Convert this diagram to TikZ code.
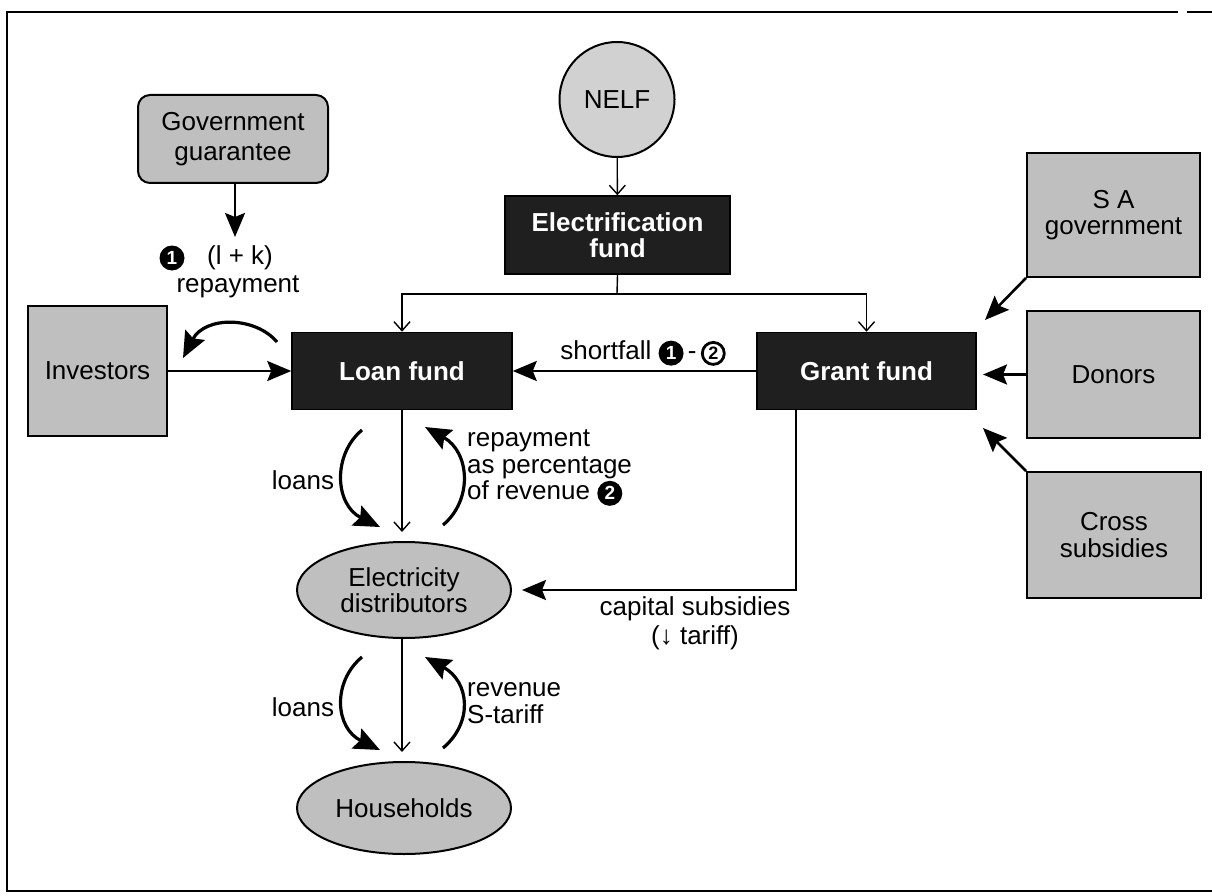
\documentclass[tikz,border=0pt]{standalone}
\usepackage{fontspec}
\setmainfont{Liberation Sans}
\usetikzlibrary{arrows.meta,shapes.geometric,calc}

\newcommand{\numfill}[1]{\tikz[baseline=(n.base)]\node[circle,fill=black,text=white,inner sep=0pt,minimum size=25pt,font=\bfseries\fontsize{19}{19}\selectfont](n){#1};}
\newcommand{\numopen}[1]{\tikz[baseline=(n.base)]\node[circle,draw=black,line width=2.8pt,fill=white,text=black,inner sep=0pt,minimum size=22pt,font=\bfseries\fontsize{18}{18}\selectfont](n){#1};}

\begin{document}
\begin{tikzpicture}[x=1pt,y=-1pt,
  font=\fontsize{26}{26.5}\selectfont,
  gbox/.style={draw=black,line width=2pt,fill=black!25,align=center,inner sep=2pt},
  dbox/.style={draw=black,line width=1.5pt,fill=black!88,text=white,font=\bfseries\fontsize{26}{26.5}\selectfont,align=center,inner sep=2pt},
  oval/.style={ellipse,draw=black,line width=2pt,fill=black!25,align=center,inner sep=0pt},
  flowline/.style={line width=1.4pt},
  thinarr/.style={line width=1.4pt,-{Straight Barb[length=9pt,width=16pt,line width=1.4pt]}},
  bigarr/.style={line width=2.6pt,-{Stealth[length=24pt,width=20pt,inset=4pt]}},
  curvarr/.style={line width=3.2pt,-{Stealth[length=26pt,width=22pt,inset=4pt]}},
  lbl/.style={align=left,inner sep=0pt}
]
\useasboundingbox (0,0) rectangle (1212,896);
\fill[white] (0,0) rectangle (1212,896);

% frame
\draw[line width=1.5pt] (1178,12) -- (7,12) -- (7,891) -- (1212,891);
\draw[line width=1.5pt] (1187,12) -- (1212,12);

% nodes
\node[circle,draw=black,line width=2pt,fill=black!18,minimum size=115pt,inner sep=0pt] (nelf) at (617,99.5) {NELF};
\node[dbox,minimum width=225pt,minimum height=78pt] (ef) at (617.5,235) {Electrification\\fund};
\node[dbox,minimum width=220pt,minimum height=77pt] (loan) at (402,371) {Loan fund};
\node[dbox,minimum width=219pt,minimum height=77pt] (grant) at (866.5,371) {Grant fund};
\node[gbox,rounded corners=12pt,minimum width=190pt,minimum height=88pt,font=\fontsize{26}{30}\selectfont] (gov) at (233,139) {Government\\guarantee};
\node[gbox,minimum width=139pt,minimum height=130pt] (inv) at (97.5,371) {Investors};
\node[gbox,minimum width=173pt,minimum height=124pt] (sa) at (1113.5,215) {S A\\government};
\node[gbox,minimum width=173pt,minimum height=127pt] (don) at (1113.5,374.5) {Donors};
\node[gbox,minimum width=174pt,minimum height=126pt] (cross) at (1114,535) {Cross\\subsidies};
\node[oval,minimum width=214pt,minimum height=96pt] (dist) at (404,590) {Electricity\\distributors};
\node[oval,minimum width=214pt,minimum height=92pt] (hh) at (404,808) {Households};

% coordinates
\coordinate (j) at (617,294);
\coordinate (govtip) at (235,237);
\coordinate (invA) at (277,342);
\coordinate (invB) at (183,358);
\coordinate (satip) at (985,320);
\coordinate (dontip) at (983,374.5);
\coordinate (crtip) at (983,428);
\coordinate (gs) at (796,410);
\coordinate (l1a) at (362,430);
\coordinate (l1b) at (380,527);
\coordinate (r1a) at (443,525);
\coordinate (r1b) at (425,427);
\coordinate (l2a) at (362,657);
\coordinate (l2b) at (380,750);
\coordinate (r2a) at (443,748);
\coordinate (r2b) at (425,657);

% connectors
\draw[thinarr] (nelf) -- (ef);
\draw[flowline] (ef.south) -- (j);
\draw[thinarr] (j) -| (loan.north);
\draw[thinarr] (j) -| (grant.north);
\draw[bigarr] (gov.south -| govtip) -- (govtip);
\draw[bigarr] (inv.east) -- (loan.west);
\draw[curvarr] (invA) .. controls (255,316) and (205,316) .. (invB);
\draw[bigarr] (grant.west) -- (loan.east);
\draw[bigarr] (sa.south west) -- (satip);
\draw[bigarr] (don.west) -- (dontip);
\draw[bigarr] (cross.north west) -- (crtip);
\draw[bigarr,shorten >=10pt] (gs) |- (dist.east);
\draw[thinarr,shorten >=9pt] (loan.south) -- (loan.south |- dist.north);
\draw[thinarr,shorten >=9pt] (dist.south -| loan.south) -- (loan.south |- hh.north);
\draw[curvarr] (l1a) .. controls (332,455) and (335,505) .. (l1b);
\draw[curvarr] (r1a) .. controls (473,500) and (470,452) .. (r1b);
\draw[curvarr] (l2a) .. controls (332,682) and (335,728) .. (l2b);
\draw[curvarr] (r2a) .. controls (473,723) and (470,682) .. (r2b);

% labels
\node[lbl] (n1) at (172,258) {\numfill{1}};
\node[lbl] (lk) at (240,258) {(l + k)};
\node[lbl] (rep) at (238,287) {repayment};
\node[lbl,anchor=south] (sf) at (643,366) {shortfall \numfill{1}\,-\,\numopen{2}};
\node[lbl] (lo1) at (303,480) {loans};
\node[lbl,anchor=west] (rp) at (467,468) {repayment\\as percentage\\of revenue \numfill{2}};
\node[lbl] (lo2) at (303,707) {loans};
\node[lbl,anchor=west] (rv) at (467,703) {revenue\\S-tariff};
\node[lbl,align=center,font=\fontsize{26}{29}\selectfont] (cs) at (695,623) {capital subsidies\\(↓ tariff)};
\end{tikzpicture}
\end{document}
